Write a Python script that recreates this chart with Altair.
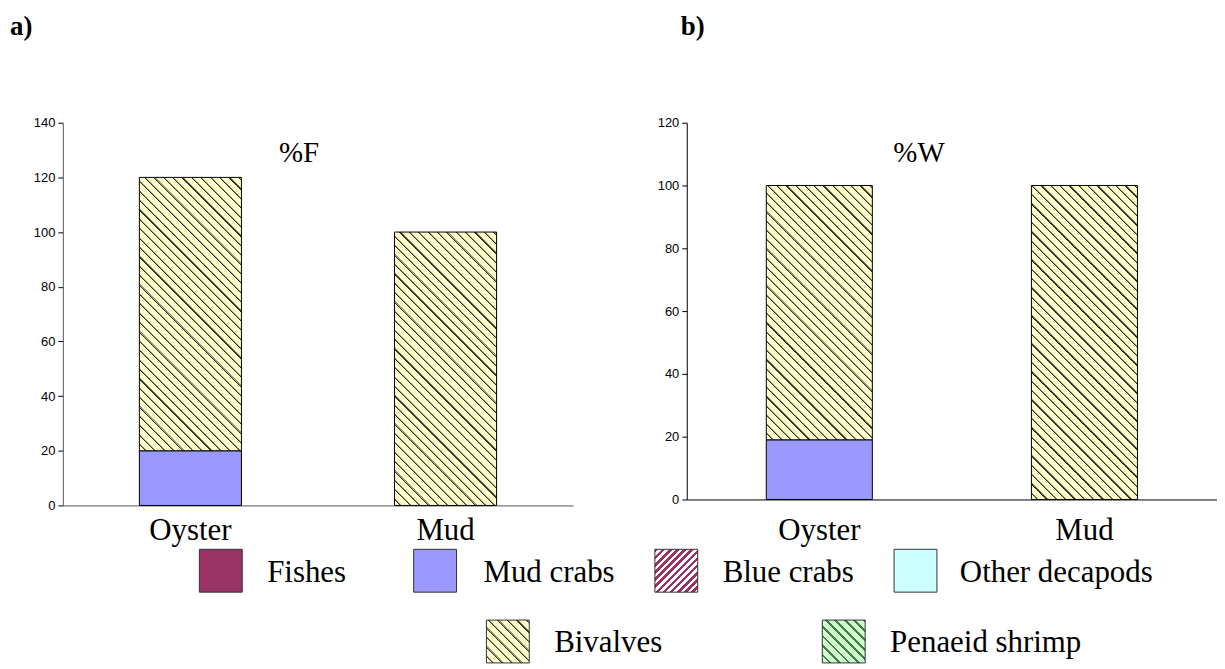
import math
import altair as alt
import pandas as pd

# ---------------- data ----------------
sites = ["Oyster", "Mud"]
prey = ["Fishes", "Mud crabs", "Blue crabs", "Other decapods", "Bivalves", "Penaeid shrimp"]
freq_mud_crabs = [20, 0]        # %F
freq_bivalves = [100, 100]      # %F
weight_mud_crabs = [19, 0]      # %W
weight_bivalves = [81, 100]     # %W
freq_ticks = [0, 20, 40, 60, 80, 100, 120, 140]
weight_ticks = [0, 20, 40, 60, 80, 100, 120]
panel_labels = ["a)", "b)"]
panel_titles = ["%F", "%W"]

# ---------------- layout / style ----------------
PA_W, PA_H = 512, 384
PB_W, PB_H = 532, 378
SERIF = "Liberation Serif"
SANS = "Liberation Sans"
YELLOW = "#FFFFCC"
MUDCRAB = "#9999FF"
FISH = "#993366"
DECAPOD = "#CCFFFF"
SHRIMP = "#CCFFCC"
BIG = 31

# legend layout (page pixels); legend cell origin = panel a plot origin shifted down
LEG_X0, LEG_Y0 = 63, 505
LEG_W, LEG_H = 512, 160
legend_swatch_x = [200, 415, 657, 897, 488, 825]
legend_swatch_y = [549, 549, 549, 549, 620, 620]
legend_text_x = [268, 485, 725, 963, 556, 893]
SW = 43


def stripe_gradient(w, h, period, segs, forward=False):
    """Linear gradient emulating diagonal hatching on a w x h box."""
    a = w / h
    t = (a + 1) / (a * a + 1)
    if forward:  # "/" stripes
        x1, y1, x2, y2 = 0, 0, t * a, t
    else:        # "\" stripes
        x1, y1, x2, y2 = 0, 1, t * a, 1 - t
    n = max(1, round((w + h) / math.sqrt(2) / period))
    stops = []
    for i in range(n):
        for f0, f1, col in segs:
            stops.append(alt.GradientStop(offset=min(1, (i + f0) / n), color=col))
            stops.append(alt.GradientStop(offset=min(1, (i + f1) / n), color=col))
    return alt.LinearGradient(gradient="linear", x1=x1, y1=y1, x2=x2, y2=y2, stops=stops)


BIV_SEGS = [(0, 0.6, YELLOW), (0.6, 0.72, "#34342a"), (0.72, 0.84, "#9a9a80"), (0.84, 1, YELLOW)]
BLUE_SEGS = [(0, 0.5, FISH), (0.5, 1, "#FFFFFF")]
SHRIMP_SEGS = [(0, 0.72, SHRIMP), (0.72, 1, "#4a7a4a")]


def panel_df(mud, biv):
    rows = []
    for i, s in enumerate(sites):
        rows.append({"site": s, "prey": "Mud crabs", "start": 0, "end": mud[i]})
        rows.append({"site": s, "prey": "Bivalves", "start": mud[i], "end": mud[i] + biv[i]})
    return pd.DataFrame(rows)


def make_panel(mud, biv, ticks, ymax, W, H, label, title, title_x, label_x, xlab_pad, axis_col):
    df = panel_df(mud, biv)
    step = W / 2.0
    bw = step * 0.4
    x_enc = alt.X("site:N", sort=sites,
                  scale=alt.Scale(domain=sites, paddingInner=0.6, paddingOuter=0.3),
                  axis=alt.Axis(title=None, labelAngle=0, labelFont=SERIF, labelFontSize=BIG,
                                labelColor="black", ticks=False, domainColor=axis_col,
                                labelPadding=xlab_pad))
    y_enc = alt.Y("start:Q", scale=alt.Scale(domain=[0, ymax], nice=False),
                  axis=alt.Axis(title=None, values=ticks, grid=False, labelFont=SANS,
                                labelFontSize=13, labelColor="black", tickSize=5,
                                tickColor="black", domainColor=axis_col, labelPadding=3))
    base = alt.Chart(df)
    layers = []
    mc = base.transform_filter((alt.datum.prey == "Mud crabs") & (alt.datum.end > alt.datum.start)) \
        .mark_bar(fill=MUDCRAB, stroke="black", strokeWidth=1) \
        .encode(x=x_enc, y=y_enc, y2="end:Q")
    layers.append(mc)
    for i, s in enumerate(sites):
        hpx = biv[i] / ymax * H
        if biv[i] <= 0:
            continue
        g = stripe_gradient(bw, hpx, 6.6, BIV_SEGS)
        bl = base.transform_filter((alt.datum.prey == "Bivalves") & (alt.datum.site == s)) \
            .mark_bar(fill=g, stroke="black", strokeWidth=1) \
            .encode(x=x_enc, y=y_enc, y2="end:Q")
        layers.append(bl)
    tdf = pd.DataFrame({"t": [title], "l": [label]})
    layers.append(alt.Chart(tdf).mark_text(font=SERIF, fontSize=29, align="center",
                                            baseline="alphabetic", color="black")
                  .encode(text="t:N", x=alt.value(title_x), y=alt.value(39)))
    layers.append(alt.Chart(tdf).mark_text(font=SERIF, fontSize=27, fontWeight="bold",
                                            align="left", baseline="alphabetic", color="black")
                  .encode(text="l:N", x=alt.value(label_x), y=alt.value(-88)))
    return alt.layer(*layers).properties(width=W, height=H)


panel_a = make_panel(freq_mud_crabs, freq_bivalves, freq_ticks, 140, PA_W, PA_H,
                     panel_labels[0], panel_titles[0], 237, -53, 10, "#555555")
panel_b = make_panel(weight_mud_crabs, weight_bivalves, weight_ticks, 120, PB_W, PB_H,
                     panel_labels[1], panel_titles[1], 233, -6, 16, "black")

# ---------------- legend ----------------
leg = pd.DataFrame({
    "label": prey,
    "sx": legend_swatch_x,
    "sy": legend_swatch_y,
    "tx": legend_text_x,
})
leg["sx2"] = leg["sx"] + SW
leg["sy2"] = leg["sy"] + SW
leg["ty"] = leg["sy"] + SW / 2 + 2

lx = alt.Scale(domain=[LEG_X0, LEG_X0 + LEG_W], nice=False, zero=False)
ly = alt.Scale(domain=[LEG_Y0, LEG_Y0 + LEG_H], nice=False, zero=False, reverse=True)

swatch_fill = {
    "Fishes": FISH,
    "Mud crabs": MUDCRAB,
    "Blue crabs": stripe_gradient(SW, SW, 5.0, BLUE_SEGS, forward=True),
    "Other decapods": DECAPOD,
    "Bivalves": stripe_gradient(SW, SW, 6.6, BIV_SEGS),
    "Penaeid shrimp": stripe_gradient(SW, SW, 7.0, SHRIMP_SEGS),
}
leg_layers = []
lbase = alt.Chart(leg)
for name in prey:
    leg_layers.append(
        lbase.transform_filter(alt.datum.label == name)
        .mark_rect(fill=swatch_fill[name], stroke="#333333", strokeWidth=1)
        .encode(x=alt.X("sx:Q", scale=lx, axis=None), x2="sx2:Q",
                y=alt.Y("sy:Q", scale=ly, axis=None), y2="sy2:Q")
    )
leg_layers.append(
    lbase.mark_text(font=SERIF, fontSize=BIG, align="left", baseline="middle", color="black")
    .encode(x=alt.X("tx:Q", scale=lx, axis=None), y=alt.Y("ty:Q", scale=ly, axis=None),
            text="label:N")
)
legend = alt.layer(*leg_layers).properties(width=LEG_W, height=LEG_H)

chart = alt.concat(panel_a, panel_b, legend, columns=2,
                   spacing={"row": 0, "column": 114}, bounds="flush").properties(
    padding={"left": 2, "top": 4, "right": 0, "bottom": 0}
).configure(background="white").configure_view(stroke=None)

chart.save("out.html", embed_options={"renderer": "svg", "actions": False})
